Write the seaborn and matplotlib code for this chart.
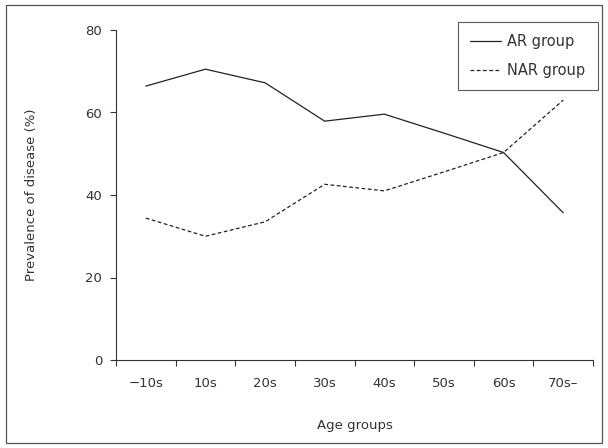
import pandas as pd
import numpy as np
import matplotlib.pyplot as plt
import seaborn as sns
from matplotlib.patches import Rectangle

sns.set_style("ticks")
plt.rcParams['font.family'] = ['DejaVu Sans']

# data
age_groups = ['\u221210s', '10s', '20s', '30s', '40s', '50s', '60s', '70s\u2013']
ar_values = [66.4, 70.5, 67.2, 57.9, 59.6, 55.0, 50.3, 35.7]
nar_values = [34.4, 30.0, 33.5, 42.6, 41.0, 45.6, 50.3, 63.0]

df = pd.DataFrame({
    'pos': list(range(len(age_groups))) * 2,
    'value': ar_values + nar_values,
    'group': ['AR group'] * len(age_groups) + ['NAR group'] * len(age_groups),
})

fig = plt.figure(figsize=(6.08, 4.48), dpi=100)
ax = fig.add_axes([116 / 608, 88 / 448, 477 / 608, 330 / 448])

sns.lineplot(data=df, x='pos', y='value', style='group',
             dashes={'AR group': '', 'NAR group': (3, 2)},
             color='#222222', linewidth=0.9, ax=ax)

ax.set_xlim(-0.5, len(age_groups) - 0.5)
ax.set_ylim(0, 80)
ax.set_yticks([0, 20, 40, 60, 80])
ax.set_xticks(np.arange(len(age_groups) + 1) - 0.5)
ax.set_xticklabels([])
ax.set_xticks(np.arange(len(age_groups)), minor=True)
ax.set_xticklabels(age_groups, minor=True)
ax.tick_params(axis='x', which='minor', length=0, pad=12, labelsize=9.5, colors='#333333')
ax.tick_params(axis='x', which='major', length=4.5, width=0.8, color='#333333')
ax.tick_params(axis='y', length=4, width=0.8, color='#333333', labelsize=9.5,
               labelcolor='#333333', pad=6)

for s in ['top', 'right']:
    ax.spines[s].set_visible(False)
for s in ['left', 'bottom']:
    ax.spines[s].set_linewidth(0.8)
    ax.spines[s].set_color('#333333')

ax.set_xlabel('Age groups', fontsize=9.5, color='#333333', labelpad=21)
ax.set_ylabel('Prevalence of disease (%)', fontsize=9.5, color='#333333', labelpad=34)

leg = ax.legend(loc='upper right', bbox_to_anchor=(1.01, 1.025), frameon=True,
                fancybox=False, edgecolor='#333333', fontsize=10.5, handlelength=2.1,
                handletextpad=0.45, borderpad=0.85, labelspacing=0.95,
                borderaxespad=0, title=None)
leg.get_frame().set_linewidth(0.8)
for t in leg.get_texts():
    t.set_color('#333333')

fig.patches.append(Rectangle((6 / 608, 5 / 448), 596 / 608, 438 / 448,
                             transform=fig.transFigure, fill=False,
                             edgecolor='#555555', linewidth=0.9))

fig.savefig('out.png', dpi=100)
